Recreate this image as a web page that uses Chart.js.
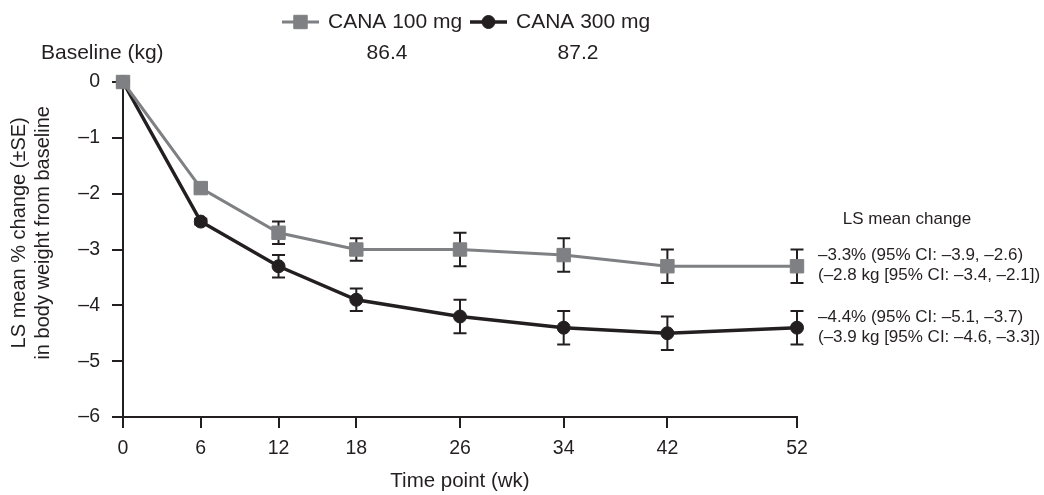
<!DOCTYPE html>
<html>
<head>
<meta charset="utf-8">
<script src="https://cdn.jsdelivr.net/npm/chart.js@4/dist/chart.umd.min.js"></script>
<style>
html, body { margin: 0; padding: 0; background: #fff; }
#wrap { width: 1044px; height: 495px; }
</style>
</head>
<body>
<div id="wrap"><canvas id="weightChart" width="1044" height="495"></canvas></div>
<script>
// time points (weeks) and LS mean % change with SE
const weeks = [0, 6, 12, 18, 26, 34, 42, 52];
const cana100 = [0, -1.9, -2.7, -3.0, -3.0, -3.1, -3.3, -3.3];
const cana100SE = [0, 0.05, 0.2, 0.2, 0.3, 0.3, 0.3, 0.3];
const cana300 = [0, -2.5, -3.3, -3.9, -4.2, -4.4, -4.5, -4.4];
const cana300SE = [0, 0.05, 0.2, 0.2, 0.3, 0.3, 0.3, 0.3];
const yTicks = [0, -1, -2, -3, -4, -5, -6];
const seriesNames = ['CANA 100 mg', 'CANA 300 mg'];
const baselineKg = ['86.4', '87.2'];
const lsChange100 = ['–3.3% (95% CI: –3.9, –2.6)', '(–2.8 kg [95% CI: –3.4, –2.1])'];
const lsChange300 = ['–4.4% (95% CI: –5.1, –3.7)', '(–3.9 kg [95% CI: –4.6, –3.3])'];

const ink = '#231f20';
const grey = '#7f8083';
const fontFamily = '"Liberation Sans", Arial, sans-serif';

const toPoints = vals => vals.map((v, i) => ({ x: weeks[i], y: v }));
const dash = v => String(v).replace('-', '–');

// vertical SE bars with caps, drawn under the markers
const errorBars = {
    id: 'errorBars',
    beforeDatasetsDraw(chart) {
        const { ctx, scales: { x, y } } = chart;
        ctx.save();
        ctx.strokeStyle = ink;
        ctx.lineWidth = 2;
        chart.data.datasets.forEach(ds => {
            ds.data.forEach((pt, i) => {
                const se = ds.se[i];
                if (!se) return;
                const px = x.getPixelForValue(pt.x);
                const top = y.getPixelForValue(pt.y + se);
                const bot = y.getPixelForValue(pt.y - se);
                ctx.beginPath();
                ctx.moveTo(px, top); ctx.lineTo(px, bot);
                ctx.moveTo(px - 6.5, top); ctx.lineTo(px + 6.5, top);
                ctx.moveTo(px - 6.5, bot); ctx.lineTo(px + 6.5, bot);
                ctx.stroke();
            });
        });
        ctx.restore();
    }
};

// legend on top, baseline row, LS mean change notes on the right
const notes = {
    id: 'notes',
    afterDraw(chart) {
        const { ctx, scales: { y } } = chart;
        const datasets = chart.data.datasets;
        ctx.save();
        ctx.textBaseline = 'middle';
        ctx.textAlign = 'left';

        const legendX = [282, 470];
        datasets.forEach((ds, i) => {
            const x0 = legendX[i], cy = 22;
            ctx.strokeStyle = ds.borderColor;
            ctx.lineWidth = ds.borderWidth;
            ctx.beginPath();
            ctx.moveTo(x0, cy); ctx.lineTo(x0 + 37, cy);
            ctx.stroke();
            ctx.fillStyle = ds.pointBackgroundColor;
            ctx.strokeStyle = ds.pointBorderColor;
            ctx.lineWidth = 1;
            Chart.helpers.drawPoint(ctx, {
                pointStyle: ds.pointStyle, radius: ds.pointRadius, rotation: 0, borderWidth: 1
            }, x0 + 18.5, cy);
            ctx.fillStyle = ink;
            ctx.font = '21px ' + fontFamily;
            ctx.fillText(ds.label, x0 + 46, cy);
        });

        ctx.fillStyle = ink;
        ctx.font = '21px ' + fontFamily;
        ctx.fillText('Baseline (kg)', 41, 53);
        ctx.textAlign = 'center';
        ctx.fillText(baselineKg[0], 387, 53);
        ctx.fillText(baselineKg[1], 578, 53);

        ctx.font = '17px ' + fontFamily;
        ctx.fillText('LS mean change', 907, 219);
        ctx.textAlign = 'left';
        [lsChange100, lsChange300].forEach((lines, i) => {
            const last = datasets[i].data[datasets[i].data.length - 1].y;
            const py = y.getPixelForValue(last);
            ctx.fillText(lines[0], 818, py - 10.5);
            ctx.fillText(lines[1], 818, py + 9.5);
        });
        ctx.restore();
    }
};

const weightChart = new Chart(document.getElementById('weightChart'), {
    type: 'line',
    data: {
        datasets: [{
            label: seriesNames[0],
            data: toPoints(cana100),
            se: cana100SE,
            borderColor: grey,
            borderWidth: 3,
            pointStyle: 'rect',
            pointRadius: 9.5,
            pointBackgroundColor: grey,
            pointBorderColor: grey,
            pointBorderWidth: 1,
            clip: false
        }, {
            label: seriesNames[1],
            data: toPoints(cana300),
            se: cana300SE,
            borderColor: ink,
            borderWidth: 3.5,
            pointStyle: 'circle',
            pointRadius: 6.5,
            pointBackgroundColor: ink,
            pointBorderColor: ink,
            pointBorderWidth: 1,
            clip: false
        }]
    },
    options: {
        responsive: false,
        animation: false,
        layout: { padding: { left: 0, top: 82, right: 247, bottom: 0 } },
        plugins: {
            legend: { display: false },
            tooltip: { enabled: false }
        },
        scales: {
            x: {
                type: 'linear',
                min: 0,
                max: 52,
                afterBuildTicks: scale => { scale.ticks = weeks.map(v => ({ value: v })); },
                afterFit: scale => { scale.height = 78; },
                border: { color: ink, width: 2 },
                grid: { drawOnChartArea: false, color: ink, tickLength: 11, lineWidth: 2 },
                ticks: { color: ink, font: { family: fontFamily, size: 19.5 }, padding: 9, maxRotation: 0 },
                title: {
                    display: true,
                    text: 'Time point (wk)',
                    color: ink,
                    font: { family: fontFamily, size: 20.5 },
                    padding: { top: 0, bottom: 1 }
                }
            },
            y: {
                min: -6,
                max: 0,
                afterBuildTicks: scale => { scale.ticks = yTicks.map(v => ({ value: v })); },
                afterFit: scale => { scale.width = 123; },
                border: { color: ink, width: 2 },
                grid: { drawOnChartArea: false, color: ink, tickLength: 11, lineWidth: 2 },
                ticks: { color: ink, font: { family: fontFamily, size: 19.5 }, padding: 12, callback: dash },
                title: {
                    display: true,
                    text: ['      LS mean % change (±SE)', '      in body weight from baseline'],
                    color: ink,
                    font: { family: fontFamily, size: 20 },
                    padding: { top: 7, bottom: 0 }
                }
            }
        }
    },
    plugins: [errorBars, notes]
});
</script>
</body>
</html>
